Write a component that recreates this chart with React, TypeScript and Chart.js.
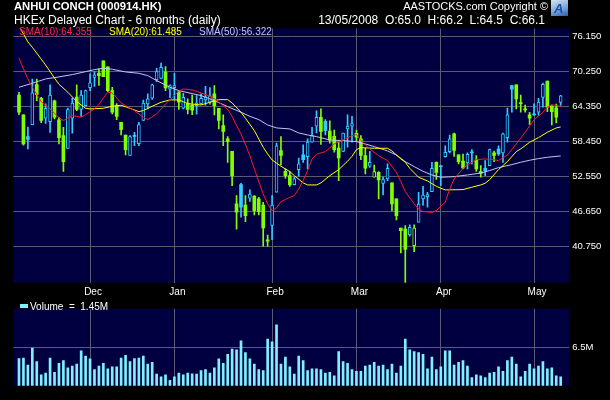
import React, { useEffect, useRef } from 'react';
import { Chart, registerables } from 'chart.js';

Chart.register(...registerables);

// ---- Daily OHLC (HK$) ----
const openP = [66.25, 62.9, 59.25, 61.25, 68.0, 65.7, 62.35, 61.75, 65.25, 62.05, 59.4, 57.25, 62.35, 65.9, 63.8, 64.45, 67.5, 69.2, 69.95, 72.0, 71.0, 67.0, 64.45, 61.65, 59.5, 56.05, 59.45, 58.05, 61.95, 64.75, 65.7, 68.85, 69.05, 70.1, 67.25, 67.5, 66.8, 64.05, 64.75, 64.55, 64.45, 64.8, 65.4, 65.05, 66.45, 64.0, 61.1, 58.85, 56.75, 47.9, 51.15, 47.7, 48.85, 49.2, 48.75, 47.7, 41.85, 44.25, 49.85, 56.9, 53.4, 52.65, 51.15, 53.65, 56.15, 55.85, 58.3, 61.0, 62.5, 61.8, 60.15, 59.3, 57.3, 56.75, 60.55, 61.0, 59.8, 58.85, 56.05, 54.25, 52.4, 53.2, 51.35, 52.1, 51.45, 48.75, 43.8, 43.65, 42.65, 40.85, 44.8, 48.75, 49.1, 49.95, 54.9, 54.25, 55.85, 56.7, 59.7, 56.15, 55.1, 54.8, 56.6, 55.3, 53.35, 53.9, 54.35, 56.5, 57.15, 56.5, 59.05, 67.85, 67.95, 64.9, 63.9, 62.9, 63.0, 63.35, 65.85, 68.6, 64.35, 64.1, 65.0];
const highP = [66.7, 62.9, 60.85, 68.95, 68.95, 65.85, 64.75, 67.95, 65.4, 62.5, 60.8, 64.05, 65.75, 67.95, 67.0, 67.1, 69.8, 70.2, 70.65, 72.0, 71.0, 67.55, 64.8, 61.65, 59.5, 59.4, 59.95, 61.65, 65.4, 66.45, 68.1, 70.75, 71.65, 71.05, 67.95, 69.9, 67.0, 66.55, 65.6, 66.25, 66.15, 66.45, 67.7, 67.5, 67.85, 64.0, 62.9, 59.25, 56.75, 49.3, 51.35, 49.3, 50.25, 49.3, 49.0, 48.15, 42.65, 49.3, 58.15, 59.25, 53.8, 53.35, 52.4, 55.6, 57.85, 58.85, 60.8, 63.6, 63.9, 62.1, 61.9, 60.35, 58.3, 59.85, 62.9, 62.65, 60.35, 59.4, 57.25, 56.75, 54.45, 53.35, 52.4, 54.65, 51.45, 48.75, 43.8, 44.25, 44.35, 44.35, 49.85, 50.85, 49.85, 54.9, 55.0, 54.35, 57.7, 59.5, 59.85, 56.15, 56.3, 56.5, 57.05, 56.05, 54.35, 55.2, 57.15, 56.8, 57.7, 59.85, 64.05, 67.85, 67.95, 66.25, 64.55, 63.35, 64.75, 65.7, 68.25, 68.6, 64.55, 64.7, 66.2];
const lowP = [62.95, 57.8, 57.15, 61.25, 65.3, 61.6, 61.45, 59.95, 62.2, 58.0, 53.35, 57.25, 59.8, 63.6, 62.65, 64.35, 67.0, 67.7, 67.85, 69.35, 66.8, 63.05, 62.1, 59.5, 56.15, 56.05, 57.7, 57.7, 61.95, 63.9, 65.5, 68.5, 68.95, 67.0, 65.8, 65.6, 63.8, 63.9, 63.05, 62.95, 63.0, 64.7, 64.55, 64.7, 62.9, 60.55, 57.7, 54.9, 50.95, 43.65, 45.65, 44.9, 48.3, 46.05, 46.05, 40.75, 40.75, 41.85, 49.85, 54.45, 52.25, 50.85, 51.1, 52.55, 54.9, 53.8, 58.3, 59.85, 57.9, 59.5, 58.15, 56.6, 51.8, 56.7, 57.45, 58.3, 58.4, 55.35, 52.95, 54.05, 52.4, 48.75, 49.4, 51.8, 46.75, 45.2, 39.65, 34.55, 42.45, 39.85, 44.8, 47.7, 47.35, 49.95, 52.0, 50.95, 55.75, 56.5, 55.9, 54.65, 53.8, 53.8, 54.65, 53.35, 52.4, 52.65, 54.35, 55.0, 56.05, 54.9, 58.3, 63.35, 63.9, 63.35, 63.35, 61.3, 62.8, 62.8, 64.2, 63.45, 61.2, 61.55, 64.5];
const closeP = [63.35, 58.0, 58.75, 66.6, 66.3, 61.95, 64.0, 66.25, 62.5, 59.05, 55.0, 63.8, 64.9, 63.8, 66.25, 67.0, 68.3, 69.65, 69.5, 69.35, 67.0, 63.35, 62.65, 60.4, 57.05, 59.25, 59.25, 61.25, 64.9, 65.6, 67.95, 70.2, 70.9, 67.45, 67.85, 67.85, 65.05, 65.85, 63.8, 63.7, 64.9, 65.7, 65.95, 66.1, 64.45, 61.95, 60.1, 58.4, 52.65, 46.5, 47.35, 45.9, 49.55, 46.75, 46.6, 43.85, 41.6, 47.7, 57.7, 56.05, 52.65, 51.1, 52.1, 54.65, 55.35, 58.3, 59.4, 62.5, 60.1, 60.25, 58.65, 57.05, 55.65, 59.85, 61.0, 61.45, 59.15, 56.05, 53.9, 54.9, 53.35, 51.95, 52.0, 53.9, 47.9, 45.9, 43.4, 40.2, 43.95, 43.8, 47.85, 49.4, 49.45, 53.9, 53.2, 54.15, 56.6, 58.85, 56.9, 55.0, 53.95, 56.25, 56.5, 53.8, 53.05, 53.5, 57.05, 56.05, 56.3, 59.7, 62.9, 67.25, 65.6, 64.8, 63.75, 62.35, 62.9, 65.05, 68.05, 64.2, 63.45, 62.5, 66.1];

// ---- Daily volume (millions of shares) ----
const volumeM = [4.62, 4.72, 3.5, 6.4, 4.11, 1.83, 2.13, 4.72, 2.29, 3.81, 4.27, 3.05, 3.35, 3.66, 5.94, 5.03, 4.57, 2.74, 3.35, 3.81, 2.89, 3.2, 3.2, 4.72, 5.18, 4.11, 4.62, 4.72, 5.03, 3.66, 3.96, 1.98, 1.52, 1.83, 0.91, 1.52, 2.13, 1.83, 2.13, 2.03, 1.98, 2.59, 2.74, 2.13, 3.05, 4.57, 3.81, 5.33, 6.25, 6.09, 7.62, 5.64, 4.57, 3.66, 2.74, 2.59, 7.92, 7.46, 10.36, 3.66, 4.87, 3.2, 1.98, 5.03, 4.27, 2.59, 2.89, 2.89, 2.74, 2.13, 2.29, 1.68, 5.79, 4.11, 3.81, 2.74, 2.44, 2.44, 3.35, 3.5, 3.96, 3.35, 3.5, 2.74, 3.66, 2.13, 3.35, 7.92, 6.09, 5.79, 5.64, 5.33, 2.89, 4.87, 2.74, 3.2, 5.94, 5.94, 3.5, 3.96, 4.27, 3.35, 1.37, 1.83, 1.68, 1.37, 2.13, 2.29, 3.2, 2.44, 4.27, 4.87, 3.66, 1.52, 2.44, 3.66, 2.89, 3.35, 4.11, 2.89, 3.05, 1.68, 1.52];

// ---- Moving averages, read at sampled trading-day indices ----
const sma10X = [0, 2, 3, 5, 7, 9, 10, 12, 14, 15, 17, 18, 19, 20, 21, 23, 24, 26, 28, 29, 31, 33, 35, 36, 37, 39, 41, 43, 44, 46, 47, 48, 49, 50, 52, 53, 55, 56, 57, 58, 59, 61, 62, 63, 64, 65, 66, 67, 69, 71, 73, 75, 76, 77, 79, 81, 83, 85, 86, 87, 89, 90, 91, 93, 94, 95, 96, 97, 98, 100, 101, 103, 105, 107, 108, 110, 112, 114, 116, 118, 119, 120, 121, 122];
const sma10Y = [72.44, 68.96, 67.55, 65.14, 63.9, 62.44, 61.93, 62.78, 62.5, 62.95, 63.9, 64.69, 65.76, 66.71, 66.6, 64.91, 64.46, 63.62, 62.5, 62.1, 63.06, 64.74, 66.15, 66.93, 67.27, 67.1, 66.6, 66.04, 65.59, 64.46, 63.79, 62.66, 61.09, 59.69, 56.03, 53.79, 49.57, 47.89, 46.76, 47.21, 48.28, 49.01, 49.29, 50.41, 51.82, 53.51, 55.47, 56.26, 56.71, 58.0, 58.67, 59.41, 59.57, 58.56, 57.16, 56.03, 55.19, 53.22, 51.65, 49.96, 47.89, 47.04, 46.59, 46.48, 46.76, 47.49, 48.17, 50.41, 52.1, 53.9, 54.46, 55.36, 55.47, 55.36, 55.19, 56.14, 58.0, 59.97, 62.1, 63.34, 64.24, 64.57, 64.52, 64.3];
const sma20X = [0, 2, 3, 5, 6, 8, 9, 11, 13, 15, 16, 19, 21, 23, 25, 27, 28, 30, 32, 34, 36, 38, 41, 43, 45, 47, 48, 50, 51, 53, 55, 56, 57, 59, 61, 62, 64, 65, 67, 68, 70, 72, 74, 75, 76, 77, 80, 83, 84, 86, 87, 88, 90, 92, 94, 95, 96, 100, 102, 104, 105, 106, 108, 110, 112, 113, 115, 117, 119, 121, 122];
const sma20Y = [77.9, 75.2, 74.3, 72.3, 71.3, 69.1, 68.06, 66.71, 65.14, 64.01, 63.9, 64.01, 64.35, 64.52, 64.01, 63.45, 63.62, 64.35, 65.03, 65.42, 65.42, 64.8, 64.57, 65.03, 65.47, 65.47, 64.91, 63.34, 62.33, 60.25, 57.44, 56.31, 55.3, 54.24, 53.34, 52.66, 51.43, 51.09, 51.09, 51.43, 52.66, 53.67, 55.08, 55.92, 57.04, 57.38, 57.27, 57.27, 56.82, 55.47, 54.91, 53.9, 52.38, 51.76, 50.86, 50.53, 50.25, 50.3, 50.7, 51.09, 51.37, 51.99, 53.67, 55.02, 56.71, 57.16, 58.28, 59.07, 59.97, 60.7, 60.87];
const sma50X = [0, 3, 6, 9, 12, 15, 17, 19, 21, 24, 27, 29, 31, 34, 36, 39, 41, 43, 45, 47, 50, 52, 54, 56, 58, 61, 63, 65, 67, 70, 73, 76, 78, 80, 83, 85, 87, 89, 91, 93, 95, 98, 101, 104, 106, 108, 111, 113, 115, 117, 119, 122];
const sma50Y = [67.55, 68.23, 68.96, 69.3, 69.69, 70.19, 70.53, 70.76, 70.59, 70.14, 69.91, 69.52, 68.68, 67.55, 66.99, 66.49, 66.15, 65.59, 64.97, 64.29, 63.34, 62.66, 62.1, 61.2, 60.7, 60.53, 59.86, 59.52, 59.24, 58.67, 58.56, 58.39, 58.0, 57.55, 56.82, 56.14, 55.02, 54.18, 53.39, 52.77, 52.38, 52.49, 52.77, 53.11, 53.51, 54.01, 54.52, 54.91, 55.25, 55.53, 55.75, 55.98];

// ---- Axis labels ----
const monthTickIdx = [16, 35, 57, 76, 95, 116];
const monthLabels = ['Dec', 'Jan', 'Feb', 'Mar', 'Apr', 'May'];
const priceTicks = [40.75, 46.65, 52.55, 58.45, 64.35, 70.25, 76.15];
const volumeTicks = [6.5];

// ---- Styling ----
const FONT = "'Liberation Sans', Arial, Helvetica, sans-serif";
const PLOT_BG = '#000040';
const GRID = '#5a5a72';
const CYAN = '#33ccff';
const GREEN = '#80ff00';
const RED = '#ff1a1a';
const YELLOW = '#ffff00';
const LAVENDER = '#c4c4f4';
const VOL = '#80f0ff';

const PLOT_LEFT = 13.3;
const AXIS_W = 40.7;
const X_MIN = -1.284;
const X_MAX = 123.94;

const idx = closeP.map((_, i) => i);
const colorOf = (i: number) =>
  i === 0 ? (closeP[0] >= openP[0] ? CYAN : GREEN) : closeP[i] >= closeP[i - 1] ? CYAN : GREEN;
const hollow = (i: number) => closeP[i] > openP[i];

const plotBg = {
  id: 'plotBg',
  beforeDraw(chart: any) {
    const { ctx, chartArea: a } = chart;
    ctx.save();
    ctx.fillStyle = PLOT_BG;
    ctx.fillRect(a.left, a.top, a.right - a.left, a.bottom - a.top);
    ctx.restore();
  },
};

function xScale(showLabels: boolean, height: number) {
  return {
    type: 'linear',
    min: X_MIN,
    max: X_MAX,
    bounds: 'data',
    offset: false,
    afterBuildTicks: (s: any) => {
      s.ticks = monthTickIdx.map((v) => ({ value: v }));
    },
    afterFit: (s: any) => {
      s.height = height;
    },
    grid: { color: GRID, lineWidth: 1, drawTicks: false, offset: false },
    border: { display: false },
    ticks: {
      display: showLabels,
      color: '#ffffff',
      font: { family: FONT, size: 10 },
      padding: 4,
      labelOffset: 3,
      maxRotation: 0,
      autoSkip: false,
      callback: (_v: any, i: number) => monthLabels[i],
    },
  };
}

function yScale(min: number, max: number, ticks: number[], fmt: (v: number) => string) {
  return {
    position: 'right',
    min,
    max,
    bounds: 'data',
    beginAtZero: false,
    afterBuildTicks: (s: any) => {
      s.ticks = ticks.map((v) => ({ value: v }));
    },
    afterFit: (s: any) => {
      s.width = AXIS_W;
    },
    grid: { color: GRID, lineWidth: 1, drawTicks: false },
    border: { display: false },
    ticks: {
      color: '#ffffff',
      font: { family: FONT, size: 9.5 },
      padding: 3,
      callback: (v: any) => fmt(Number(v)),
    },
  };
}

const lineDs = (xs: number[], ys: number[], color: string) => ({
  type: 'line',
  data: xs.map((x, k) => ({ x, y: ys[k] })),
  borderColor: color,
  borderWidth: 1,
  pointRadius: 0,
  tension: 0,
  order: 0,
});

const priceConfig: any = {
  type: 'bar',
  data: {
    datasets: [
      lineDs(sma10X, sma10Y, RED),
      lineDs(sma20X, sma20Y, YELLOW),
      lineDs(sma50X, sma50Y, LAVENDER),
      {
        type: 'bar',
        data: idx.map((i) => ({ x: i, y: [openP[i], closeP[i]] })),
        backgroundColor: idx.map((i) => (hollow(i) ? PLOT_BG : colorOf(i))),
        borderColor: idx.map(colorOf),
        borderWidth: idx.map((i) => (hollow(i) ? 1 : 0)),
        borderSkipped: false,
        barThickness: 3,
        minBarLength: 1,
        grouped: false,
        order: 1,
      },
      {
        type: 'bar',
        data: idx.map((i) => ({ x: i, y: [lowP[i], highP[i]] })),
        backgroundColor: idx.map(colorOf),
        borderWidth: 0,
        barThickness: 1,
        grouped: false,
        order: 2,
      },
    ],
  },
  options: {
    animation: false,
    responsive: false,
    maintainAspectRatio: false,
    devicePixelRatio: 1,
    events: [],
    layout: { padding: { left: PLOT_LEFT, top: 28.5, right: 0, bottom: 0 } },
    plugins: { legend: { display: false }, tooltip: { enabled: false } },
    scales: {
      x: xScale(true, 17.3),
      y: yScale(34.61, 77.46, priceTicks, (v) => v.toFixed(3)),
    },
  },
  plugins: [plotBg],
};

const volumeConfig: any = {
  type: 'bar',
  data: {
    datasets: [
      {
        type: 'bar',
        data: idx.map((i) => ({ x: i, y: volumeM[i] })),
        backgroundColor: VOL,
        borderWidth: 0,
        barThickness: 2,
        grouped: false,
      },
    ],
  },
  options: {
    animation: false,
    responsive: false,
    maintainAspectRatio: false,
    devicePixelRatio: 1,
    events: [],
    layout: { padding: { left: PLOT_LEFT, top: 0.3, right: 0, bottom: 14.3 } },
    plugins: { legend: { display: false }, tooltip: { enabled: false } },
    scales: {
      x: xScale(false, 0),
      y: yScale(0, 13.1, volumeTicks, (v) => `${v}M`),
    },
  },
  plugins: [plotBg],
};

const txt = (extra: React.CSSProperties): React.CSSProperties => ({
  position: 'absolute',
  whiteSpace: 'pre',
  lineHeight: 1,
  fontFamily: FONT,
  color: '#ffffff',
  ...extra,
});

export default function App() {
  const priceRef = useRef<HTMLCanvasElement>(null);
  const volRef = useRef<HTMLCanvasElement>(null);

  useEffect(() => {
    document.body.style.margin = '0';
    document.body.style.background = '#000';
    const pc = new Chart(priceRef.current as HTMLCanvasElement, priceConfig);
    const vc = new Chart(volRef.current as HTMLCanvasElement, volumeConfig);
    return () => {
      pc.destroy();
      vc.destroy();
    };
  }, []);

  return (
    <div style={{ position: 'relative', width: 610, height: 400, background: '#000', overflow: 'hidden' }}>
      <canvas ref={priceRef} width={610} height={300} style={{ position: 'absolute', left: 0, top: 0 }} />
      <canvas ref={volRef} width={610} height={100} style={{ position: 'absolute', left: 0, top: 300 }} />

      <div style={txt({ left: 14, top: 0.5, fontSize: 11.25, fontWeight: 'bold' })}>ANHUI CONCH (000914.HK)</div>
      <div style={txt({ left: 14, top: 13.9, fontSize: 12 })}>HKEx Delayed Chart - 6 months (daily)</div>
      <div style={txt({ right: 62, top: 0.6, fontSize: 11, textAlign: 'right' })}>AASTOCKS.com Copyright ©</div>
      <div style={txt({ right: 65, top: 13.9, fontSize: 12, textAlign: 'right' })}>
        {'13/05/2008  O:65.0  H:66.2  L:64.5  C:66.1'}
      </div>
      <div
        style={{
          position: 'absolute',
          left: 551,
          top: 0,
          width: 17,
          height: 16,
          background: 'linear-gradient(160deg, #d8e4f4 0%, #7fa6dc 55%, #2a5cae 100%)',
        }}
      >
        <div
          style={txt({
            left: 3,
            top: 2,
            fontSize: 13,
            fontWeight: 'bold',
            fontStyle: 'italic',
            color: '#1c4fa0',
          })}
        >
          A
        </div>
      </div>

      <div style={txt({ left: 19, top: 26.8, fontSize: 10, color: '#ff2a2a' })}>SMA(10):64.355</div>
      <div style={txt({ left: 109, top: 26.8, fontSize: 10, color: YELLOW })}>SMA(20):61.485</div>
      <div style={txt({ left: 199, top: 26.8, fontSize: 10, color: LAVENDER })}>SMA(50):56.322</div>

      <div style={{ position: 'absolute', left: 20, top: 304, width: 8, height: 4, background: VOL }} />
      <div style={txt({ left: 30, top: 301.5, fontSize: 10 })}>{'Volume  =  1.45M'}</div>
    </div>
  );
}
